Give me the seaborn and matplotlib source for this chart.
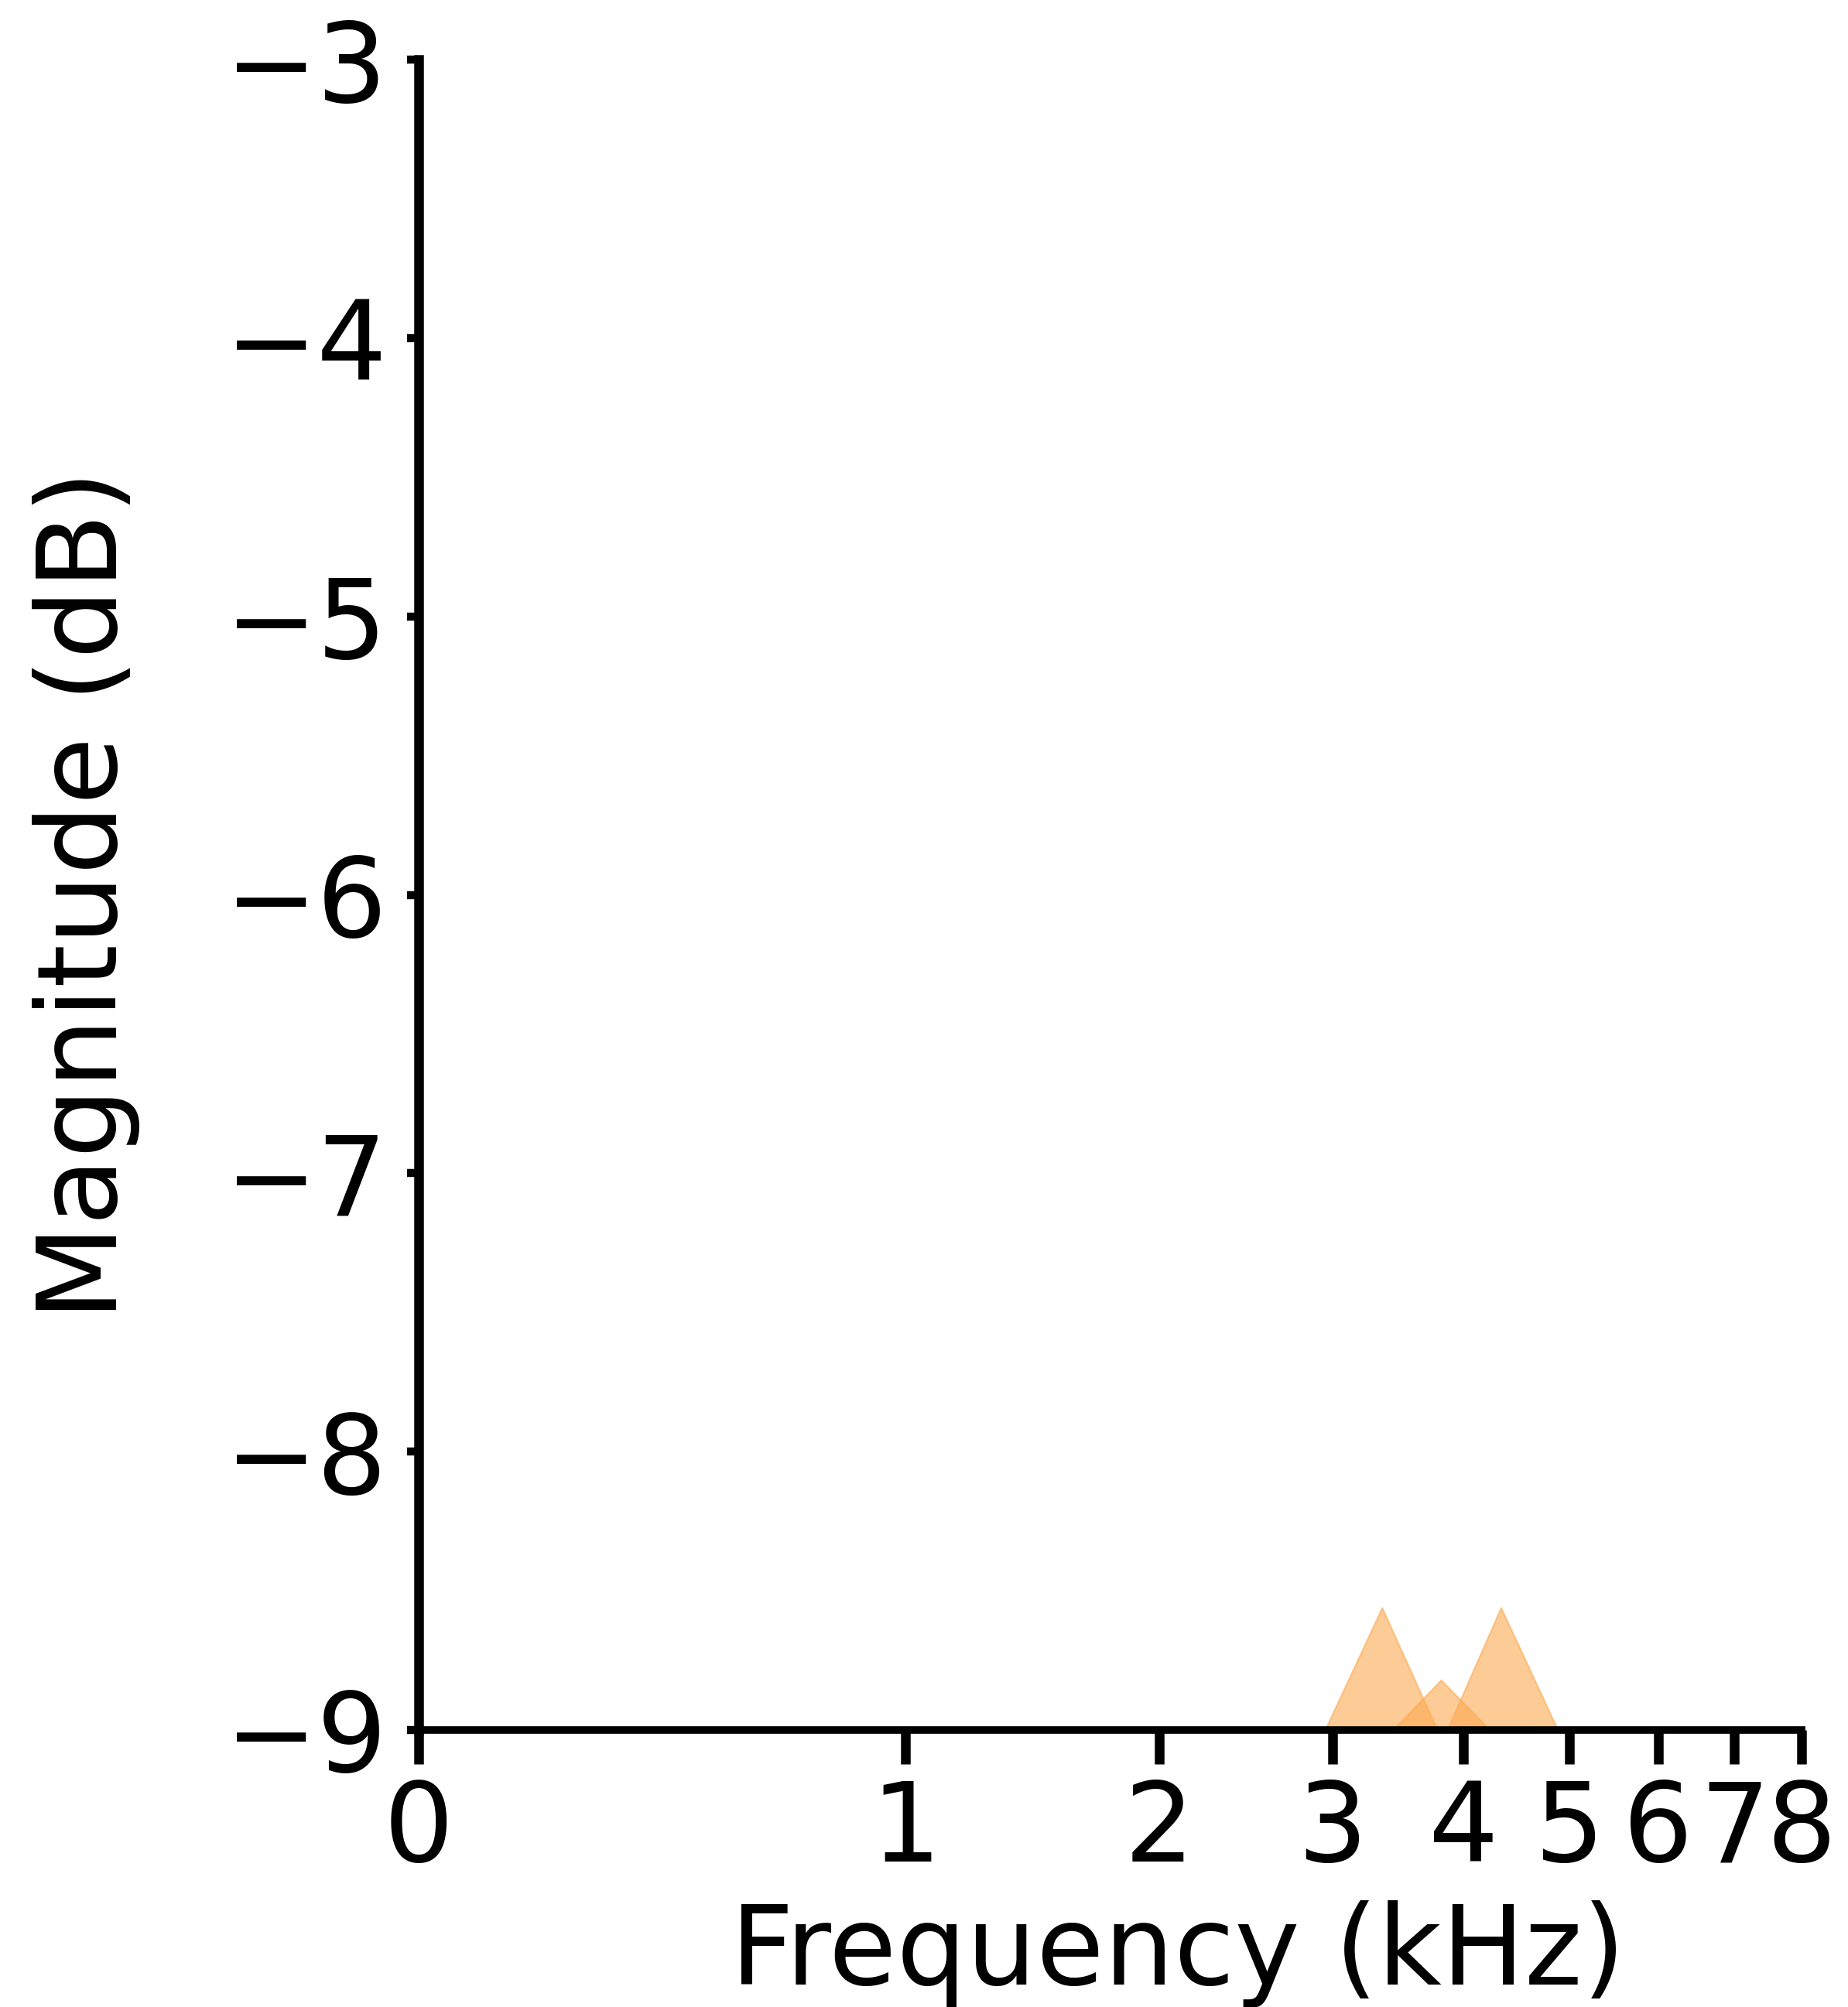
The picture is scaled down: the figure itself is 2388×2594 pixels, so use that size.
import numpy as np
import matplotlib
matplotlib.use("Agg")
import matplotlib.pyplot as plt
import seaborn as sns

# ---- data ----
tick_khz = [0, 1, 2, 3, 4, 5, 6, 7, 8]
y_ticks = [-9, -8, -7, -6, -5, -4, -3]
# triangular bands: left edge, peak, right edge (kHz)
band_left = [2.95, 3.43, 3.86]
band_peak = [3.35, 3.81, 4.33]
band_right = [3.78, 4.23, 4.88]
band_peak_db = [-8.56, -8.82, -8.56]
base_db = -9.0

sns.set_theme(style="ticks")
plt.rcParams["font.family"] = ["DejaVu Sans"]
plt.rcParams["text.color"] = "black"
plt.rcParams["axes.labelcolor"] = "black"
plt.rcParams["xtick.color"] = "black"
plt.rcParams["ytick.color"] = "black"
plt.rcParams["axes.edgecolor"] = "black"

DPI = 100
fig = plt.figure(figsize=(23.88, 25.94), dpi=DPI)
ax = fig.add_axes([541 / 2388, 1 - 2236 / 2594, (2328 - 541) / 2388, (2236 - 77) / 2594])


def fwd(f):
    f = np.asarray(f, dtype=float)
    return 2595.0 * np.log10(1.0 + np.clip(f, -0.69, None) * 1000.0 / 700.0)


def inv(m):
    m = np.asarray(m, dtype=float)
    return 700.0 * (10.0 ** (m / 2595.0) - 1.0) / 1000.0


ax.set_xscale("function", functions=(fwd, inv))

color = "#fda950"
for l, p, r, pk in zip(band_left, band_peak, band_right, band_peak_db):
    xs = [l, p, r]
    ys = [base_db, pk, base_db]
    ax.fill_between(xs, ys, base_db, color=color, alpha=0.6, linewidth=1.5)

ax.set_xlim(0, 8)
ax.set_ylim(-9, -3)
ax.set_xticks(tick_khz)
ax.set_xticklabels([str(t) for t in tick_khz])
ax.set_yticks(y_ticks)

fs = 102.5
ax.set_xlabel("Frequency (kHz)", fontsize=fs, color="black")
ax.set_ylabel("Magnitude (dB)", fontsize=fs, labelpad=79, color="black")
ax.xaxis.set_label_coords(0.549, -0.102)
ax.tick_params(axis="x", labelsize=fs, length=32, width=9, pad=12,
               color="black", labelcolor="black")
ax.tick_params(axis="y", labelsize=fs, length=11, width=7.5, pad=18,
               color="black", labelcolor="black")
ax.spines["left"].set_linewidth(9)
ax.spines["bottom"].set_linewidth(7)
sns.despine(ax=ax, trim=True)
ax.set_facecolor("white")
fig.patch.set_facecolor("white")

fig.savefig("out.png", dpi=DPI, facecolor="white")
